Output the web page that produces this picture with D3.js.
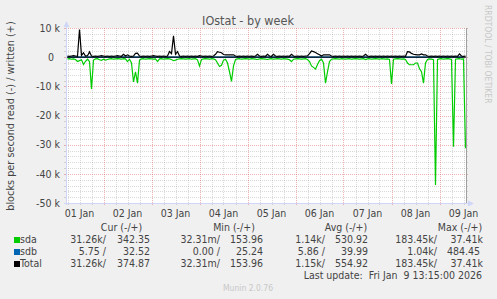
<!DOCTYPE html>
<html>
<head>
<meta charset="utf-8">
<script src="https://cdn.jsdelivr.net/npm/d3@7"></script>
<style>
body { margin: 0; background: #f0f0f0; }
svg { display: block; font-family: "DejaVu Sans Condensed", "DejaVu Sans", sans-serif; font-stretch: condensed; }
text { white-space: pre; }
</style>
</head>
<body>
<svg id="chart"></svg>
<script>
// hourly samples from 01 Jan 06:00 UTC, values in thousands of blocks/s
const sampleStart = Date.UTC(2026, 0, 1, 6);
const sampleStep = 3600e3;
const sdaReadK = [
  0.6,0.5,0.7,0.6,0.8,1.5,1.2,0.9,2.5,1.4,
  0.7,1.5,10.9,1.0,0.6,0.5,0.9,1.1,0.7,1.0,
  0.8,0.6,0.5,0.7,0.6,0.5,0.6,0.7,0.5,0.6,
  1.5,0.7,2.0,8.5,5.0,8.9,1.0,0.6,0.5,0.7,
  0.6,0.5,0.6,0.7,0.6,1.5,0.6,0.5,0.7,0.6,
  0.5,0.6,0.8,1.2,1.0,0.7,0.6,0.5,0.6,0.7,
  0.6,0.5,0.7,0.6,0.5,0.9,3.0,0.8,0.6,0.5,
  0.6,0.7,0.5,0.6,0.9,2.0,3.2,2.8,1.0,0.7,
  2.0,5.0,8.3,3.0,0.8,0.6,0.5,0.7,0.6,0.5,
  0.6,0.7,0.5,0.6,0.7,0.8,0.6,0.5,0.6,0.7,
  0.8,0.6,0.5,0.7,0.6,0.5,0.6,0.7,0.5,0.6,
  0.7,0.9,1.5,0.7,0.6,0.5,0.6,0.7,0.6,0.5,
  0.8,1.5,3.0,3.5,4.1,2.5,1.2,0.7,2.0,8.9,
  5.0,1.5,0.7,0.6,0.5,0.6,0.7,0.5,0.6,0.7,
  0.6,0.5,0.7,0.6,0.5,0.6,0.7,0.6,0.5,0.8,
  0.6,0.5,0.7,0.6,0.5,0.6,0.7,0.5,0.6,0.7,
  0.6,0.8,9.2,0.7,0.6,0.5,0.6,0.7,0.6,0.8,
  2.0,2.6,2.6,2.6,2.0,2.0,4.0,5.0,8.9,2.0,
  0.8,0.6,0.7,0.9,43.8,0.8,0.6,0.5,0.7,0.6,
  0.5,0.6,0.8,30.7,0.7,0.6,0.5,0.7,0.6,31.26
];
const totalWriteK = [
  0.4,0.3,0.4,0.5,0.4,0.3,9.5,0.6,1.5,0.4,
  0.5,1.8,0.4,0.3,0.4,0.3,0.4,0.5,0.4,0.3,
  0.4,0.3,0.4,0.3,0.4,0.5,0.4,0.3,1.0,0.4,
  0.8,0.4,0.3,0.4,1.3,1.4,0.4,0.3,0.4,0.3,
  0.4,0.3,0.4,0.5,0.4,0.3,0.4,0.3,0.4,0.3,
  0.4,1.9,1.2,7.3,1.0,1.9,0.4,0.3,0.4,0.3,
  0.4,0.3,0.4,0.3,0.4,0.3,0.5,0.4,0.3,0.4,
  0.3,0.4,0.3,0.4,1.0,1.9,1.7,1.5,0.9,0.8,
  0.8,0.8,0.8,0.8,0.4,0.3,0.4,0.3,0.4,0.3,
  0.4,0.3,0.4,0.3,0.4,1.0,0.4,0.3,0.4,0.3,
  1.0,0.4,0.3,1.0,0.4,0.3,0.4,0.3,0.4,0.3,
  0.4,0.3,1.0,0.4,0.3,0.4,0.3,0.4,0.3,0.4,
  0.4,1.2,2.1,1.9,1.6,1.2,0.8,0.4,0.8,0.8,
  0.8,0.8,0.4,0.3,0.4,0.3,0.4,0.3,0.4,0.3,
  0.4,0.3,0.4,0.3,0.4,0.3,0.4,0.3,0.4,1.0,
  0.4,0.3,0.4,0.3,0.4,0.3,0.4,0.3,0.4,0.3,
  0.4,0.3,0.4,0.3,0.4,0.3,0.4,0.3,0.4,0.3,
  1.9,1.8,1.3,1.0,0.9,0.8,0.8,1.1,0.8,0.8,
  0.4,0.3,0.4,0.3,0.4,0.3,0.4,0.3,0.4,0.3,
  0.4,0.3,0.4,0.3,0.4,0.3,1.1,0.4,0.3,0.37
];
// sdb every 6 hours
const sdbStep = 6 * 3600e3;
const sdbReadK = [0.006,0.005,0.007,0.006,0.004,0.006,0.005,0.007,0.006,0.005,0.006,0.004,
  0.006,0.007,0.005,0.006,0.006,0.005,0.007,0.006,0.005,0.006,0.004,0.006,
  0.007,0.005,0.006,0.006,0.005,0.007,0.006,0.005,0.006,0.006];
const sdbWriteK = [0.04,0.038,0.042,0.039,0.041,0.037,0.04,0.043,0.039,0.04,0.038,0.041,
  0.04,0.039,0.042,0.038,0.04,0.041,0.039,0.04,0.037,0.042,0.04,0.039,
  0.041,0.038,0.04,0.039,0.042,0.04,0.038,0.041,0.039,0.033];

const yTickValues = [10, 0, -10, -20, -30, -40, -50];
const yTickLabels = ["10 k", "0  ", "-10 k", "-20 k", "-30 k", "-40 k", "-50 k"];
const dayLabels = ["01 Jan","02 Jan","03 Jan","04 Jan","05 Jan","06 Jan","07 Jan","08 Jan","09 Jan"];

const legendNames = ["sda", "sdb", "Total"];
const legendColors = ["#00cc00", "#0066b3", "#000000"];
const legendHeaders = ["Cur (-/+)", "Min (-/+)", "Avg (-/+)", "Max (-/+)"];
const curVals = [["31.26k/", "342.35 "], ["5.75 /", "32.52 "], ["31.26k/", "374.87 "]];
const minVals = [["32.31m/", "153.96 "], ["0.00 /", "25.24 "], ["32.31m/", "153.96 "]];
const avgVals = [["1.14k/", "530.92 "], ["5.86 /", "39.99 "], ["1.15k/", "554.92 "]];
const maxVals = [["183.45k/", "37.41k"], ["1.04k/", "484.45 "], ["183.45k/", "37.41k"]];

const W = 497, H = 299;
const pL = 66, pR = 466, pT = 28, pB = 203;
const txt = "#444";
const axisCol = "#cfd6f8";

const svg = d3.select("#chart").attr("width", W).attr("height", H);
svg.append("rect").attr("width", W).attr("height", H).attr("fill", "#f0f0f0");
svg.append("rect").attr("x", pL).attr("y", pT).attr("width", pR - pL).attr("height", pB - pT).attr("fill", "#fff");

const x = d3.scaleUtc()
  .domain([Date.UTC(2026, 0, 1, 5, 15), Date.UTC(2026, 0, 9, 13, 15)])
  .range([pL, pR]);
const y = d3.scaleLinear().domain([-50, 10]).range([pB, pT]);

// grid
const g = svg.append("g");
const minorX = d3.utcHour.every(6).range(x.domain()[0], x.domain()[1]).filter(d => d.getUTCHours() !== 0);
const majorX = d3.utcDay.range(x.domain()[0], x.domain()[1]);
const minorY = y.ticks(30).filter(v => v % 10 !== 0);
const majorY = y.ticks(6).filter(v => v > -50);
const minorCol = "rgba(140,140,140,0.33)", majorCol = "rgba(210,60,60,0.38)";

function vlines(vals, col) {
  g.selectAll(null).data(vals).enter().append("line")
    .attr("x1", d => Math.round(x(d)) + 0.5).attr("x2", d => Math.round(x(d)) + 0.5)
    .attr("y1", pT).attr("y2", pB)
    .attr("stroke", col).attr("stroke-dasharray", "1,1");
  g.selectAll(null).data(vals).enter().append("line")
    .attr("x1", d => Math.round(x(d)) + 0.5).attr("x2", d => Math.round(x(d)) + 0.5)
    .attr("y1", pB).attr("y2", pB + 2).attr("stroke", col);
}
function hlines(vals, col) {
  g.selectAll(null).data(vals).enter().append("line")
    .attr("y1", d => Math.round(y(d)) + 0.5).attr("y2", d => Math.round(y(d)) + 0.5)
    .attr("x1", pL).attr("x2", pR)
    .attr("stroke", col).attr("stroke-dasharray", "1,1");
  g.selectAll(null).data(vals).enter().append("line")
    .attr("y1", d => Math.round(y(d)) + 0.5).attr("y2", d => Math.round(y(d)) + 0.5)
    .attr("x1", pL - 2).attr("x2", pL).attr("stroke", col);
  g.selectAll(null).data(vals).enter().append("line")
    .attr("y1", d => Math.round(y(d)) + 0.5).attr("y2", d => Math.round(y(d)) + 0.5)
    .attr("x1", pR).attr("x2", pR + 2).attr("stroke", col);
}
vlines(minorX, minorCol);
hlines(minorY, minorCol);
vlines(majorX, majorCol);
hlines(majorY, majorCol);

// series
const hourly = i => new Date(sampleStart + i * sampleStep);
const sixHourly = i => new Date(sampleStart + i * sdbStep);
const line = d3.line().x(d => x(d[0])).y(d => y(d[1]));
svg.append("clipPath").attr("id", "plot").append("rect")
  .attr("x", pL).attr("y", pT).attr("width", pR - pL + 1).attr("height", pB - pT);
const series = svg.append("g").attr("clip-path", "url(#plot)").attr("fill", "none");

series.append("path").datum(sdaReadK.map((v, i) => [hourly(i), -v]))
  .attr("d", line).attr("stroke", "#00cc00").attr("stroke-width", 1.2);
series.append("path").datum(sdbReadK.map((v, i) => [sixHourly(i), -v]))
  .attr("d", line).attr("stroke", "#0066b3").attr("stroke-width", 1);
series.append("path").datum(sdbWriteK.map((v, i) => [sixHourly(i), v]))
  .attr("d", line).attr("stroke", "#0066b3").attr("stroke-width", 1);
series.append("line").attr("x1", pL).attr("x2", pR)
  .attr("y1", y(0)).attr("y2", y(0)).attr("stroke", "#000").attr("stroke-width", 1);
series.append("path").datum(totalWriteK.map((v, i) => [hourly(i), v]))
  .attr("d", line).attr("stroke", "#000").attr("stroke-width", 1.2);

// axes
svg.append("line").attr("x1", pL + 0.5).attr("x2", pL + 0.5).attr("y1", pB + 2).attr("y2", 23).attr("stroke", axisCol);
svg.append("path").attr("d", `M${pL + 0.5},21 L${pL - 2.5},27 L${pL + 3.5},27 Z`).attr("fill", axisCol);
svg.append("line").attr("x1", pL - 2).attr("x2", 470).attr("y1", pB + 0.5).attr("y2", pB + 0.5).attr("stroke", axisCol);
svg.append("path").attr("d", `M474,${pB + 0.5} L468,${pB - 2.5} L468,${pB + 3.5} Z`).attr("fill", axisCol);
svg.append("line").attr("x1", pR + 0.5).attr("x2", pR + 0.5).attr("y1", pT).attr("y2", pB).attr("stroke", "#a0a0a0");

svg.append("g").selectAll("text").data(yTickValues).enter().append("text")
  .attr("x", 60).attr("y", d => y(d) + 3.8).attr("text-anchor", "end")
  .attr("font-size", 10.5).attr("fill", txt)
  .text((d, i) => yTickLabels[i]);

const noons = dayLabels.map((s, i) => new Date(Date.UTC(2026, 0, 1 + i, 12)));
svg.append("g").selectAll("text").data(noons).enter().append("text")
  .attr("x", d => x(d)).attr("y", 217).attr("text-anchor", "middle")
  .attr("font-size", 10.5).attr("fill", txt)
  .text((d, i) => dayLabels[i]);

// titles
svg.append("text").attr("x", 248).attr("y", 25).attr("text-anchor", "middle")
  .attr("font-size", 12.5).attr("fill", "#555").text("IOstat - by week");
svg.append("text").attr("transform", "translate(14,116) rotate(-90)").attr("text-anchor", "middle")
  .attr("font-size", 10.8).attr("fill", txt).text("blocks per second read (-) / written (+)");
svg.append("text").attr("transform", "translate(485,5) rotate(90)").attr("text-anchor", "start")
  .attr("font-size", 8.5).attr("fill", "#c8c8c8").text("RRDTOOL / TOBI OETIKER");

// legend
const headerX = [121.5, 234, 346, 460];
const negEnd = [106, 220, 325, 437];
const posEnd = [153, 266, 371, 483];
const cols = [curVals, minVals, avgVals, maxVals];
const lg = svg.append("g").attr("font-size", 10.5).attr("fill", txt);
lg.selectAll(".hdr").data(legendHeaders).enter().append("text")
  .attr("x", (d, i) => headerX[i]).attr("y", 230.5).attr("text-anchor", "middle").text(d => d);
legendNames.forEach((name, r) => {
  const yy = 243 + r * 12;
  lg.append("rect").attr("x", 14).attr("y", yy - 6).attr("width", 6).attr("height", 6).attr("fill", legendColors[r]);
  lg.append("text").attr("x", 20).attr("y", yy).text(name);
  cols.forEach((c, k) => {
    lg.append("text").attr("x", negEnd[k]).attr("y", yy).attr("text-anchor", "end").text(c[r][0]);
    lg.append("text").attr("x", posEnd[k]).attr("y", yy).attr("text-anchor", "end").text(c[r][1]);
  });
});
lg.append("text").attr("x", 482).attr("y", 279).attr("text-anchor", "end").text("Last update:  Fri Jan  9 13:15:00 2026");
svg.append("text").attr("x", 248).attr("y", 290.5).attr("text-anchor", "middle")
  .attr("font-size", 8.5).attr("fill", "#c8c8c8").text("Munin 2.0.76");
</script>
</body>
</html>
